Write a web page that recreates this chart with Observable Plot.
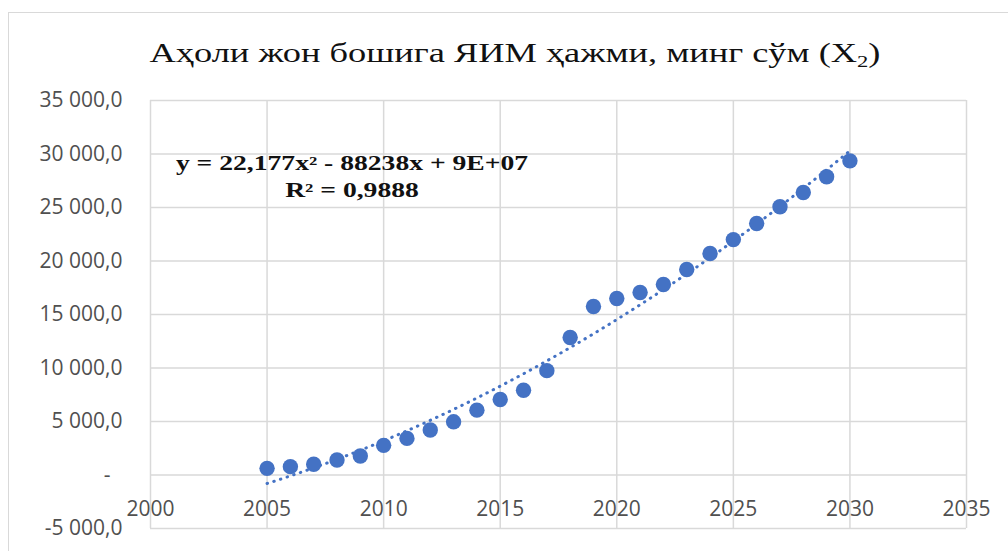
<!DOCTYPE html>
<html>
<head>
<meta charset="utf-8">
<script src="https://cdn.jsdelivr.net/npm/d3@7"></script>
<script src="https://cdn.jsdelivr.net/npm/@observablehq/plot@0.6"></script>
<style>
  html, body { margin: 0; padding: 0; background: #fff; overflow: hidden; }
  #wrap { position: relative; width: 1008px; height: 551px; overflow: hidden; background: #fff; }
  #frame { position: absolute; left: 8px; top: 12px; width: 1100px; height: 700px; border-left: 1.5px solid #d9d9d9; border-top: 1.5px solid #d9d9d9; }
  #title { position: absolute; left: 0; width: 1030px; top: 33px; text-align: center; font-family: "Liberation Serif", "Times New Roman", serif; font-size: 28px; color: #111; white-space: nowrap; line-height: 40px; transform: scaleX(1.3); transform-origin: 515px 50%; }
  #title sub { font-size: 0.62em; vertical-align: -0.3em; line-height: 0; }
  #eq { position: absolute; left: 152px; width: 400px; top: 150px; text-align: center; font-family: "Liberation Serif", "Times New Roman", serif; font-weight: bold; font-size: 20px; line-height: 27px; color: #111; white-space: nowrap; transform: scaleX(1.38); transform-origin: 200px 50%; }
  #chart { position: absolute; left: 0; top: 0; }
</style>
</head>
<body>
<div id="wrap">
  <div id="frame"></div>
  <div id="chart"></div>
  <div id="title"></div>
  <div id="eq"></div>
</div>
<script>
// ---- data ----
const years = [2005, 2006, 2007, 2008, 2009, 2010, 2011, 2012, 2013, 2014, 2015, 2016, 2017,
               2018, 2019, 2020, 2021, 2022, 2023, 2024, 2025, 2026, 2027, 2028, 2029, 2030];
const values = [620, 780, 1000, 1400, 1770, 2770, 3420, 4200, 4970, 6060, 7050, 7920, 9750,
                12850, 15750, 16500, 17050, 17800, 19200, 20700, 22000, 23500, 25070, 26400, 27870, 29360];
const xTicks = [2000, 2005, 2010, 2015, 2020, 2025, 2030, 2035];
const yTicks = [-5000, 0, 5000, 10000, 15000, 20000, 25000, 30000, 35000];
const titleText = "Аҳоли жон бошига ЯИМ ҳажми, минг сўм (X";
const titleSub = "2";
const titleEnd = ")";
const eqLine1 = "y = 22,177x² - 88238x + 9E+07";
const eqLine2 = "R² = 0,9888";

// ---- build table ----
const data = years.map((y, i) => ({year: y, value: values[i]}));

// quadratic least-squares trendline (centered x)
const xm = d3.mean(years);
const S = [0,0,0,0,0], T = [0,0,0];
for (const d of data) {
  const t = d.year - xm;
  for (let k = 0; k < 5; k++) S[k] += Math.pow(t, k);
  for (let k = 0; k < 3; k++) T[k] += d.value * Math.pow(t, k);
}
function solve3(A, b) {
  const M = A.map((r, i) => [...r, b[i]]);
  for (let c = 0; c < 3; c++) {
    let p = c; for (let r = c + 1; r < 3; r++) if (Math.abs(M[r][c]) > Math.abs(M[p][c])) p = r;
    [M[c], M[p]] = [M[p], M[c]];
    for (let r = 0; r < 3; r++) if (r !== c) {
      const f = M[r][c] / M[c][c];
      for (let k = c; k < 4; k++) M[r][k] -= f * M[c][k];
    }
  }
  return M.map((r, i) => r[3] / r[i]);
}
const [c0, c1, c2] = solve3([[S[0], S[1], S[2]], [S[1], S[2], S[3]], [S[2], S[3], S[4]]], T);
const trend = d3.range(d3.min(years), d3.max(years) + 0.0001, 0.1).map(x => {
  const t = x - xm; return {x, y: c0 + c1 * t + c2 * t * t};
});

const locale = d3.formatLocale({decimal: ",", thousands: "\u00a0", grouping: [3], currency: ["", ""], minus: "-"});
const fmt = locale.format(",.1f");

const grid = {stroke: "#d9d9d9", strokeOpacity: 1, strokeWidth: 1.5};

const chart = Plot.plot({
  width: 1008,
  height: 551,
  marginTop: 100,
  marginBottom: 23,
  marginLeft: 150,
  marginRight: 42,
  style: {background: "transparent", fontFamily: "'Open Sans', sans-serif", color: "#505050"},
  x: {domain: [2000, 2035], axis: null},
  y: {domain: [-5000, 35000]},
  marks: [
    Plot.gridY(yTicks, grid),
    Plot.gridX(xTicks, grid),
    Plot.axisY(yTicks, {tickSize: 0, tickPadding: 28, fontSize: 21, label: null,
      tickFormat: d => d === 0 ? "-\u2007" : fmt(d)}),
    Plot.text(xTicks, {x: d => d, y: () => 0, dy: 34, text: d => String(d), fontSize: 21, fill: "#505050"}),
    Plot.line(trend, {x: "x", y: "y", stroke: "#4472C4", strokeWidth: 3, strokeDasharray: "0.5 6.5", strokeLinecap: "round"}),
    Plot.dot(data, {x: "year", y: "value", r: 7.7, fill: "#4472C4", stroke: "none"})
  ]
});
document.getElementById("chart").appendChild(chart);

const title = document.getElementById("title");
title.appendChild(document.createTextNode(titleText));
const sub = document.createElement("sub"); sub.textContent = titleSub; title.appendChild(sub);
title.appendChild(document.createTextNode(titleEnd));

const eq = document.getElementById("eq");
[eqLine1, eqLine2].forEach(s => { const div = document.createElement("div"); div.textContent = s; eq.appendChild(div); });
</script>
</body>
</html>
